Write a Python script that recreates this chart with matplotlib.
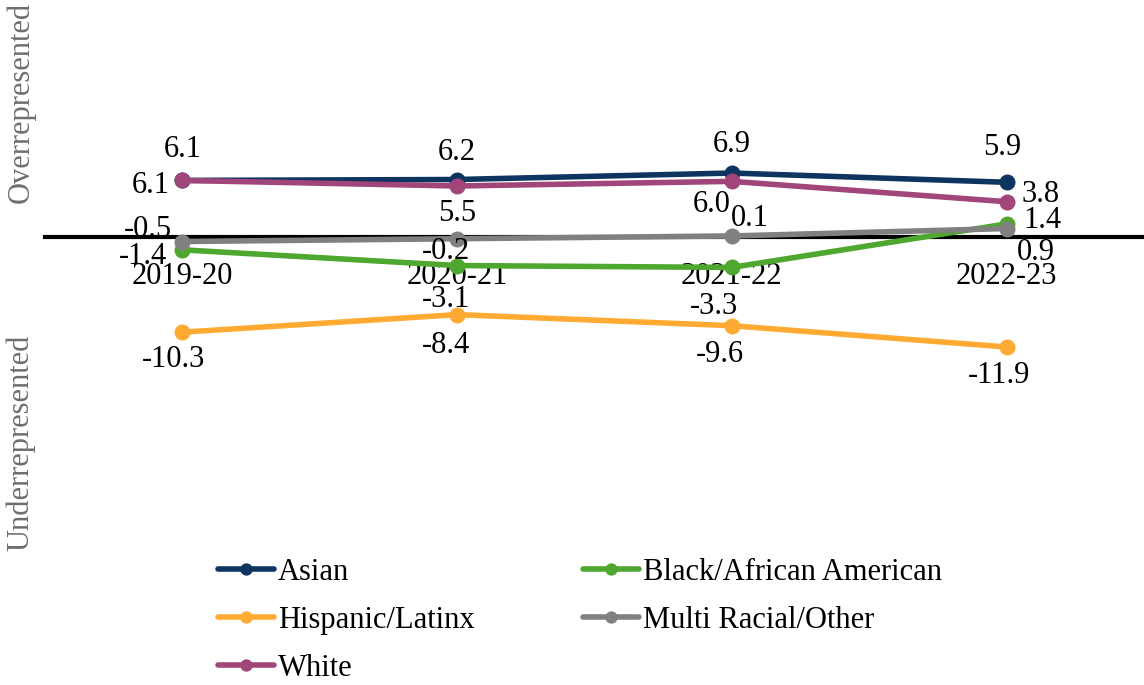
import matplotlib
matplotlib.use('Agg')
import matplotlib.pyplot as plt

# Data
years = ['2019-20', '2020-21', '2021-22', '2022-23']
asian = [6.1, 6.2, 6.9, 5.9]
black = [-1.4, -3.1, -3.3, 1.4]
hispanic = [-10.3, -8.4, -9.6, -11.9]
multi = [-0.5, -0.2, 0.1, 0.9]
white = [6.1, 5.5, 6.0, 3.8]

series = [
    ('Asian', asian, '#0E3460'),
    ('Black/African American', black, '#4EA72E'),
    ('Hispanic/Latinx', hispanic, '#FFAA33'),
    ('Multi Racial/Other', multi, '#808080'),
    ('White', white, '#A0467A'),
]

# data label offsets in pixels (dx, dy), per series / per year
label_offsets = {
    'Asian': [(0, 31), (0, 27), (0, 29), (-4, 35)],
    'Black/African American': [(-39, -7), (-11, -34), (-18, -39), (36, 3)],
    'Hispanic/Latinx': [(-9, -27), (-11, -31), (-12, -29), (-8, -29)],
    'Multi Racial/Other': [(-34, 12), (-11, -13), (18, 17), (29, -24)],
    'White': [(-32, -5), (0, -28), (-20, -23), (34, 7)],
}

plt.rcParams['font.family'] = ['Liberation Serif', 'DejaVu Serif']
FS = 22

fig = plt.figure(figsize=(11.44, 6.85), dpi=100)
ax = fig.add_axes([45 / 1144, 1 - 545 / 685, 1 - 45 / 1144, 545 / 685])

x = list(range(len(years)))
handles = {}
for name, vals, color in series:
    ln, = ax.plot(x, vals, color=color, lw=4, marker='o', ms=10.5,
                  solid_capstyle='round', zorder=3, label=name)
    handles[name] = ln
    for i, v in enumerate(vals):
        dx, dy = label_offsets[name][i]
        ax.annotate(f'{v:.1f}', (i, v), xytext=(dx, dy), textcoords='offset pixels',
                    ha='center', va='center', fontsize=FS, color='black', zorder=5)

ax.set_xlim(-0.5, 3.5)
ax.set_ylim(-33.3, 25.6)

for s in ['top', 'right', 'left']:
    ax.spines[s].set_visible(False)
ax.spines['bottom'].set_position(('data', 0))
ax.spines['bottom'].set_linewidth(3)
ax.spines['bottom'].set_zorder(2)
ax.set_xticks(x)
ax.set_xticklabels(years, fontsize=FS)
ax.tick_params(axis='x', length=0, pad=18)
ax.set_yticks([])
ax.patch.set_alpha(0)

fig.text(21 / 1144, 1 - 102 / 685, 'Overrepresented', rotation=90, ha='center',
         va='center', fontsize=FS, color='#6E6E6E')
fig.text(21 / 1144, 1 - 443 / 685, 'Underrepresented', rotation=90, ha='center',
         va='center', fontsize=FS, color='#6E6E6E')

order = ['Asian', 'Hispanic/Latinx', 'White', 'Black/African American', 'Multi Racial/Other']
fig.legend([handles[n] for n in order], order, ncol=2, loc='upper left',
           bbox_to_anchor=(218 / 1144, 1 - 558 / 685), frameon=False, fontsize=FS,
           handlelength=1.83, handletextpad=0.13, columnspacing=3.56, labelspacing=0.62,
           markerscale=0.75, borderaxespad=0, borderpad=0)

fig.savefig('out.png', dpi=100)
